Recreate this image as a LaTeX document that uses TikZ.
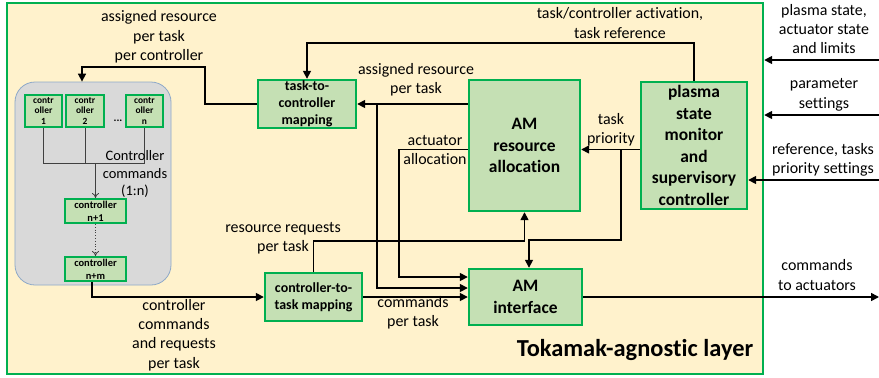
\documentclass[tikz,border=0pt]{standalone}
\usepackage{fontspec}
\setmainfont{Carlito}[Ligatures=NoCommon, RawFeature=-calt, RawFeature=-clig]
\usetikzlibrary{arrows.meta}
\definecolor{layeryellow}{HTML}{FFF2CC}
\definecolor{boxgreen}{HTML}{00B050}
\definecolor{boxfill}{HTML}{C5E0B4}
\definecolor{groupgray}{HTML}{D9D9D9}
\definecolor{groupedge}{HTML}{8EA9C8}
\definecolor{linegray}{HTML}{404040}

\begin{document}
\begin{tikzpicture}[x=1bp,y=-1bp,
    block/.style={draw=boxgreen, fill=boxfill, line width=2.4bp, align=center, inner sep=0pt,
        font=\bfseries\fontsize{14}{17}\selectfont},
    bigblock/.style={block, font=\bfseries\fontsize{17.5}{21.7}\selectfont},
    ctrl/.style={block, line width=2bp, font=\bfseries\fontsize{9.5}{11}\selectfont},
    lbl/.style={align=center, inner sep=0pt, font=\fontsize{16}{19.5}\selectfont},
    link/.style={line width=1.6bp, -{Triangle[length=8bp,width=8bp]}},
    thinlink/.style={line width=0.8bp, draw=linegray}]
    \useasboundingbox (0,0) rectangle (879,377);

    % layer and controller group
    \node[draw=boxgreen, fill=layeryellow, line width=2.4bp, minimum width=756bp, minimum height=371bp] (layer) at (385,188.5) {};
    \node[draw=groupedge, fill=groupgray, rounded corners=20bp, line width=0.8bp, minimum width=156bp, minimum height=203bp] (group) at (93,183.5) {};

    % controllers
    \node[ctrl, minimum width=37bp, minimum height=32bp] (c1) at (43.5,111) {contr\\oller\\1};
    \node[ctrl, minimum width=38bp, minimum height=32bp] (c2) at (85,111) {contr\\oller\\2};
    \node[ctrl, minimum width=37bp, minimum height=32bp] (cn) at (144.5,111) {contr\\oller\\n};
    \node[font=\bfseries\fontsize{11}{13}\selectfont] (cdots) at (118,121) {...};
    \node[ctrl, minimum width=61bp, minimum height=24bp, font=\bfseries\fontsize{10.5}{13}\selectfont] (cn1) at (95.5,211) {controller\\n+1};
    \node[ctrl, minimum width=61bp, minimum height=24bp, font=\bfseries\fontsize{10.5}{13}\selectfont] (cnm) at (95.5,269) {controller\\n+m};

    % main blocks
    \node[block, minimum width=98bp, minimum height=48bp] (t2c) at (307,104) {task-to-\\controller\\mapping};
    \node[block, minimum width=97bp, minimum height=48bp] (c2t) at (313.5,297) {controller-to-\\task mapping};
    \node[bigblock, minimum width=111bp, minimum height=131bp] (amra) at (524.5,145.5) {AM\\resource\\allocation};
    \node[bigblock, minimum width=106bp, minimum height=127bp] (psm) at (694,145.5) {plasma\\state\\monitor\\and\\supervisory\\controller};
    \node[bigblock, minimum width=113bp, minimum height=56bp] (amif) at (525.5,297) {AM\\interface};

    \node[font=\bfseries\fontsize{24.5}{29}\selectfont] (layername) at (635,350) {Tokamak-agnos\kern0pt tic layer};

    % inside the controller group
    \coordinate (cmerge) at (95.5,163);
    \draw[thinlink] (c1.south) -- (c1.south |- cmerge) -- (cn.south |- cmerge) -- (cn.south);
    \draw[thinlink] (c2.south) -- (c2.south |- cmerge);
    \draw[thinlink, -{To[length=5bp,width=7bp]}] (cmerge) -- (cn1.north);
    \draw[thinlink, dotted, -{To[length=5bp,width=7bp]}] (cn1.south) -- (cnm.north);
    \node[lbl, font=\fontsize{14.5}{18}\selectfont] (ccmd) at (135,174) {Controller\\commands\\(1:n)};

    % connectors
    \draw[link] (t2c.west) -- ++(-52,0) -- ++(0,-37) -| ([xshift=-11bp]group.north);
    \node[lbl] (l-arpc) at (159,37) {assigned resource\\per task\\per controller};

    \draw[link] (t2c.east -| amra.west) -- (t2c.east);
    \node[lbl] (l-arpt) at (416,80) {assigned resource\\per task};

    \draw[link] (psm.north) -- ++(0,-38) -| (t2c.north);
    \node[lbl] (l-act) at (620,23) {task/controller activation,\\task reference};

    \draw[link] ([yshift=-4bp]psm.west) -- ([yshift=-4bp]amra.east);
    \node[lbl] (l-prio) at (611,130) {task\\priority};

    \coordinate (tpri) at (621,150);
    \draw[link] (tpri) -- ++(0,90) -| ([xshift=3.5bp]amif.north);

    \draw[link] (c2t.north) -- ++(0,-31) -| (amra.south);
    \node[lbl] (l-req) at (283,238) {resource requests\\per task};

    \draw[link] ([yshift=-4bp]amra.west) -- ++(-69,0) |- ([yshift=20bp]amif.west);
    \node[lbl] (l-alloc) at (435,150) {actuator\\allocation};

    \coordinate (arbr) at (377,104);
    \draw[link] (arbr) |- ([yshift=9bp]amif.west);

    \draw[link] (c2t.east) -- (amif.west);
    \node[lbl] (l-cmd) at (413,313) {commands\\per task};

    \draw[link] ([xshift=-3.5bp]cnm.south) |- (c2t.west);
    \node[lbl] (l-creq) at (174,335) {controller\\commands\\and requests\\per task};

    % outside the layer
    \coordinate (out) at (879,297);
    \draw[link] (amif.east) -- (out);
    \node[lbl] (l-out) at (817,275) {commands\\to actuators};

    \coordinate (in1) at (879,60);
    \coordinate (in2) at (879,115);
    \coordinate (in3) at (879,180);
    \draw[link] (in1) -- (in1 -| layer.east);
    \draw[link] (in2) -- (in2 -| layer.east);
    \draw[link] (in3) -- (in3 -| psm.east);
    \node[lbl] (l-in1) at (824,29) {plasma state,\\actuator state\\and limits};
    \node[lbl] (l-in2) at (824,95) {parameter\\settings};
    \node[lbl] (l-in3) at (823,160) {reference, tasks\\priority settings};
\end{tikzpicture}
\end{document}
